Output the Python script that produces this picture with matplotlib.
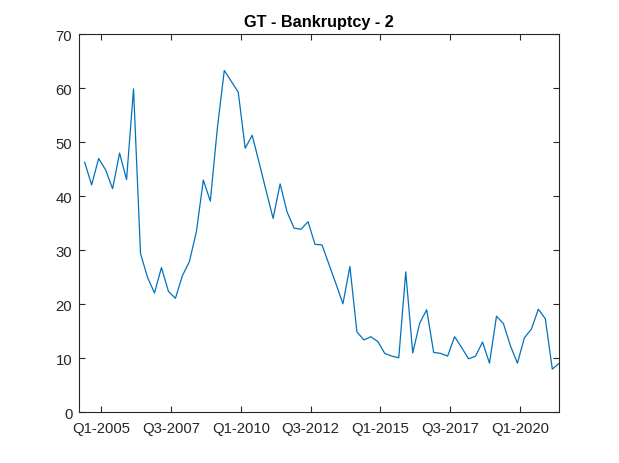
import matplotlib
matplotlib.use("Agg")
import matplotlib.pyplot as plt
import numpy as np

values = [46.3, 42.1, 47.0, 44.9, 41.4, 48.0, 43.1, 59.9, 29.4, 25.0,
          22.1, 26.8, 22.4, 21.1, 25.3, 27.9, 33.4, 43.0, 39.1, 52.5,
          63.3, 61.3, 59.3, 48.9, 51.3, 46.2, 41.0, 35.9, 42.3, 37.1,
          34.1, 33.9, 35.3, 31.1, 31.0, 27.4, 23.8, 20.1, 27.0, 14.9,
          13.4, 14.0, 13.1, 10.9, 10.4, 10.1, 26.0, 11.0, 16.5, 19.0,
          11.1, 10.9, 10.4, 14.0, 12.0, 9.9, 10.4, 13.0, 9.1, 17.8,
          16.4, 12.3, 9.1, 13.8, 15.4, 19.1, 17.3, 8.0, 9.1]
tick_labels = ["Q1-2005", "Q3-2007", "Q1-2010", "Q3-2012", "Q1-2015", "Q3-2017", "Q1-2020"]
tick_pos = [2.38 + 10 * k for k in range(len(tick_labels))]

plt.rcParams['font.family'] = ['Liberation Sans', 'DejaVu Sans']
fig = plt.figure(figsize=(6.19, 4.64), dpi=100)
ax = fig.add_axes([79.3 / 619, 1 - 413.3 / 464, (559.3 - 79.3) / 619, (413.3 - 35.3) / 464])
x = np.arange(len(values))
ax.plot(x, values, color='#0072BD', linewidth=0.9)
ax.set_xlim(-0.77, len(values) - 1)
ax.set_ylim(0, 70)
ax.set_yticks(range(0, 71, 10))
ax.set_xticks(tick_pos)
ax.set_xticklabels(tick_labels)
ax.tick_params(direction='in', length=4, width=0.8, colors='#262626', labelsize=10.7,
               top=True, right=True)
ax.tick_params(axis='x', pad=6)
ax.tick_params(axis='y', pad=5)
for s in ax.spines.values():
    s.set_color('#262626')
    s.set_linewidth(0.8)
ax.set_title("GT - Bankruptcy - 2", fontsize=11.7, fontweight='bold', color='black', pad=6)
fig.savefig("out.png", dpi=100)
